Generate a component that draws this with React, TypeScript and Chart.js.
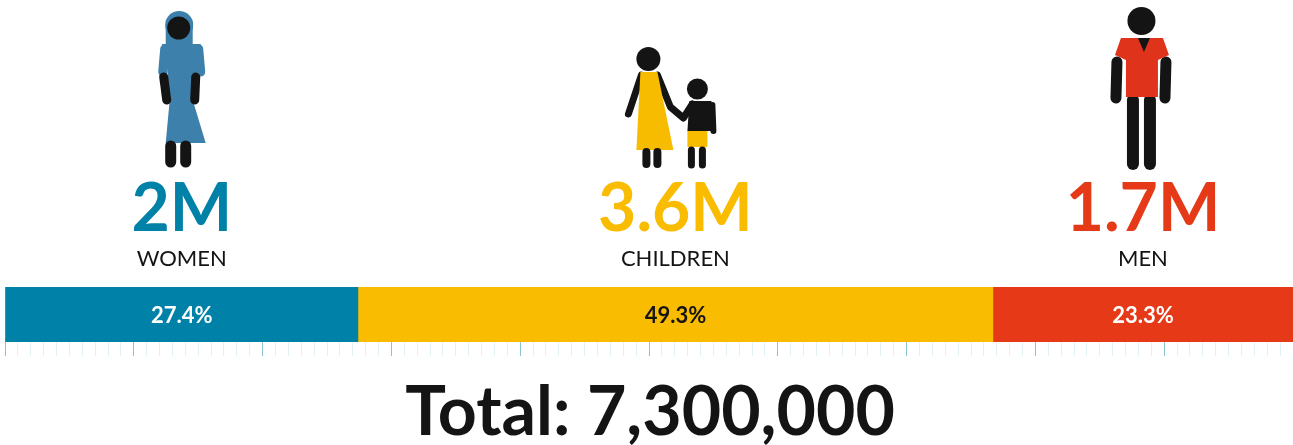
import React, { useEffect, useRef } from "react";
import { Chart, registerables } from "chart.js";

Chart.register(...registerables);

const categories = ["WOMEN", "CHILDREN", "MEN"];
const shares = [27.4, 49.3, 23.3];
const headline = ["2M", "3.6M", "1.7M"];
const shareLabels = ["27.4%", "49.3%", "23.3%"];
const colors = ["#0081a8", "#fabc00", "#e53917"];
const shareTextColors = ["#ffffff", "#141414", "#ffffff"];
const totalLabel = "Total: 7,300,000";

const INK = "#141414";
const FONT = "Lato";

type Ctx = CanvasRenderingContext2D;

function limb(ctx: Ctx, pts: number[], w: number, color = INK) {
  ctx.strokeStyle = color;
  ctx.lineWidth = w;
  ctx.lineCap = "round";
  ctx.lineJoin = "round";
  ctx.beginPath();
  ctx.moveTo(pts[0], pts[1]);
  for (let i = 2; i < pts.length; i += 2) ctx.lineTo(pts[i], pts[i + 1]);
  ctx.stroke();
}

function poly(ctx: Ctx, pts: number[], color: string) {
  ctx.fillStyle = color;
  ctx.beginPath();
  ctx.moveTo(pts[0], pts[1]);
  for (let i = 2; i < pts.length; i += 2) ctx.lineTo(pts[i], pts[i + 1]);
  ctx.closePath();
  ctx.fill();
}

function disc(ctx: Ctx, x: number, y: number, r: number, color = INK) {
  ctx.fillStyle = color;
  ctx.beginPath();
  ctx.arc(x, y, r, 0, Math.PI * 2);
  ctx.fill();
}

// Pictograms are drawn around the origin, which is the top centre of each column.
function drawWoman(ctx: Ctx) {
  const blue = "#3d80ab";
  limb(ctx, [-17, 49, -19, 72], 9, blue);
  limb(ctx, [17, 49, 19, 72], 9, blue);
  disc(ctx, -2.5, 25, 14, blue);
  poly(ctx, [-16, 24, 11, 24, 11, 44, 19, 44, 19, 52, 11, 100, 24, 143, -16, 143, -12, 100, -16, 52, -20, 44, -16, 44], blue);
  limb(ctx, [-18, 77, -15, 100], 9);
  limb(ctx, [14, 77, 13, 100], 9);
  limb(ctx, [-11, 146, -11, 162], 11);
  limb(ctx, [4, 146, 4, 162], 11);
  disc(ctx, -3, 28, 11.5);
}

function drawMotherAndChild(ctx: Ctx) {
  const yellow = "#f7bc00";
  disc(ctx, -27, 59, 12);
  limb(ctx, [-34, 75, -47, 114], 7);
  limb(ctx, [-18, 75, -5, 107, 8, 118, 17, 104], 7);
  poly(ctx, [-35, 72, -18, 72, -2, 150, -39, 150], yellow);
  limb(ctx, [-29, 152, -29, 164], 8);
  limb(ctx, [-18, 152, -18, 164], 8);
  disc(ctx, 22, 89, 10.5);
  poly(ctx, [14, 101, 36, 101, 37, 131, 12, 131], INK);
  limb(ctx, [37, 105, 38, 131], 6);
  poly(ctx, [12, 131, 32, 131, 32, 147, 12, 147], yellow);
  limb(ctx, [16, 150, 16, 165], 7);
  limb(ctx, [27, 150, 27, 165], 7);
}

function drawMan(ctx: Ctx) {
  const red = "#e0331c";
  disc(ctx, -1.5, 21, 14);
  limb(ctx, [-26, 62, -27, 98], 11);
  limb(ctx, [23, 62, 22, 98], 11);
  limb(ctx, [-10, 100, -10, 164], 12);
  limb(ctx, [7, 100, 7, 164], 12);
  poly(ctx, [-15, 97, 14, 97, 14, 38, -15, 38], INK);
  poly(ctx, [-22, 38, -5, 38, 1, 52, 7, 38, 20, 38, 26, 55, 15, 60, 15, 97, -17, 97, -17, 60, -28, 55], red);
}

const pictograms = [drawWoman, drawMotherAndChild, drawMan];

const storyPlugin = {
  id: "story",
  afterDraw(chart: Chart) {
    const ctx = chart.ctx;
    const bars = chart.getDatasetMeta(0).data.map((_, i) => chart.getDatasetMeta(i).data[0]) as any[];
    const columns = chart.data.datasets.map((_, i) => chart.getDatasetMeta(i).data[0] as any);
    ctx.save();
    ctx.textAlign = "center";
    ctx.textBaseline = "alphabetic";
    columns.forEach((bar, i) => {
      const cx = bar.x - bar.width / 2;
      ctx.save();
      ctx.translate(cx, 0);
      pictograms[i](ctx);
      ctx.restore();

      ctx.fillStyle = colors[i];
      ctx.font = `700 66px ${FONT}`;
      ctx.fillText(headline[i], cx, 231);

      ctx.fillStyle = INK;
      ctx.font = `400 22px ${FONT}`;
      ctx.fillText(categories[i], cx, 266);

      ctx.fillStyle = shareTextColors[i];
      ctx.font = `700 22px ${FONT}`;
      ctx.fillText(shareLabels[i], cx, 323);
    });
    ctx.fillStyle = INK;
    ctx.font = `700 68px ${FONT}`;
    ctx.fillText(totalLabel, 650, 435);
    ctx.restore();
    void bars;
  },
};

export default function App() {
  const ref = useRef<HTMLCanvasElement>(null);
  useEffect(() => {
    document.body.style.margin = "0";
    const chart = new Chart(ref.current!, {
      type: "bar",
      data: {
        labels: ["Population"],
        datasets: categories.map((c, i) => ({
          label: c,
          data: [shares[i]],
          backgroundColor: colors[i],
          borderWidth: 0,
          barPercentage: 1,
          categoryPercentage: 1,
        })),
      },
      options: {
        indexAxis: "y",
        animation: false,
        responsive: false,
        layout: { padding: { left: 5, right: 0, top: 287, bottom: 89 } },
        plugins: { legend: { display: false }, tooltip: { enabled: false } },
        scales: {
          x: {
            stacked: true,
            min: 0,
            max: 100,
            border: { display: false },
            ticks: { display: false, stepSize: 1, autoSkip: false, maxTicksLimit: 200 },
            grid: {
              drawOnChartArea: false,
              drawTicks: true,
              tickLength: 14,
              lineWidth: 1,
              tickColor: (c: any) => (c.tick && c.tick.value % 10 === 0 ? "#8cc4cf" : "#e2f1f3"),
            },
          },
          y: { stacked: true, display: false },
        },
      },
      plugins: [storyPlugin],
    });
    return () => chart.destroy();
  }, []);
  return <canvas ref={ref} width={1293} height={445} style={{ display: "block" }} />;
}
